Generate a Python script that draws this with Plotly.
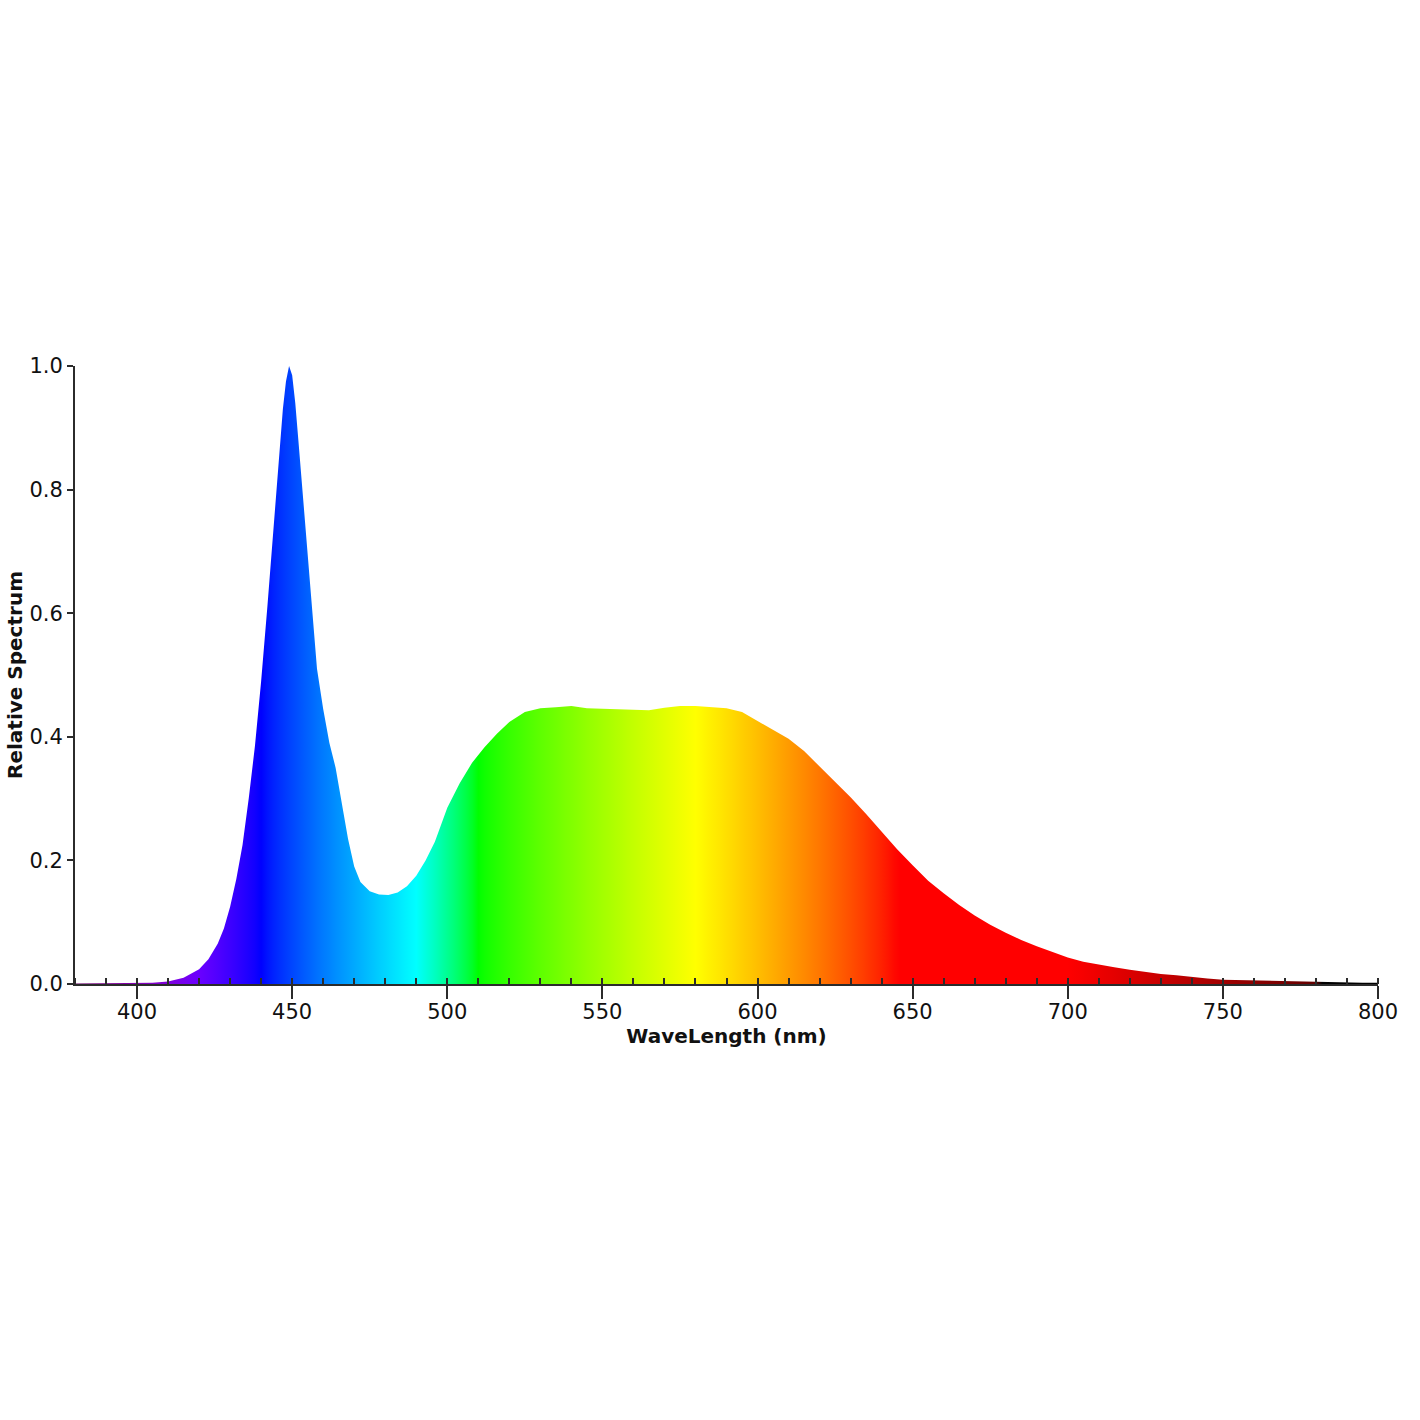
import plotly.graph_objects as go

# Wavelength (nm) and relative spectrum values
wavelength = [380, 385, 390, 395, 400, 405, 410, 415, 420, 423, 426, 428, 430, 432, 434,
              436, 438, 440, 442, 444, 446, 447, 448, 449, 450, 451, 452, 454, 456, 458,
              460, 462, 464, 466, 468, 470, 472, 475, 478, 481, 484, 487, 490, 493, 496,
              500, 504, 508, 512, 516, 520, 525, 530, 535, 540, 545, 550, 555, 560, 565,
              570, 575, 580, 585, 590, 595, 600, 605, 610, 615, 620, 625, 630, 635, 640,
              645, 650, 655, 660, 665, 670, 675, 680, 685, 690, 695, 700, 705, 710, 715,
              720, 725, 730, 735, 740, 745, 750, 755, 760, 765, 770, 775, 780, 785, 790,
              795, 800]
relative = [0.001, 0.001, 0.001, 0.001, 0.001, 0.002, 0.004, 0.010, 0.024, 0.040, 0.065,
            0.090, 0.125, 0.170, 0.225, 0.300, 0.385, 0.490, 0.610, 0.740, 0.870, 0.930,
            0.975, 1.000, 0.985, 0.940, 0.880, 0.760, 0.630, 0.510, 0.445, 0.390, 0.350,
            0.290, 0.235, 0.190, 0.165, 0.150, 0.145, 0.144, 0.148, 0.158, 0.175, 0.200,
            0.230, 0.285, 0.325, 0.358, 0.383, 0.405, 0.424, 0.440, 0.446, 0.448, 0.450,
            0.446, 0.445, 0.445, 0.444, 0.443, 0.447, 0.450, 0.450, 0.448, 0.446, 0.440,
            0.426, 0.412, 0.397, 0.377, 0.352, 0.327, 0.302, 0.275, 0.247, 0.218, 0.192,
            0.167, 0.147, 0.128, 0.111, 0.096, 0.083, 0.071, 0.061, 0.052, 0.043, 0.036,
            0.031, 0.027, 0.023, 0.019, 0.016, 0.014, 0.011, 0.009, 0.007, 0.0065, 0.0055,
            0.0048, 0.004, 0.0033, 0.003, 0.0027, 0.0025, 0.002, 0.002]

x_ticks = [400, 450, 500, 550, 600, 650, 700, 750, 800]
y_ticks = [0.0, 0.2, 0.4, 0.6, 0.8, 1.0]
X_RANGE = [380, 800]
Y_RANGE = [0, 1]


def spectrum_rgb(w, gamma=0.8):
    """Approximate visible color of a wavelength (style only)."""
    if 380 <= w < 440:
        r, g, b = -(w - 440) / 60.0, 0.0, 1.0
    elif 440 <= w < 490:
        r, g, b = 0.0, (w - 440) / 50.0, 1.0
    elif 490 <= w < 510:
        r, g, b = 0.0, 1.0, -(w - 510) / 20.0
    elif 510 <= w < 580:
        r, g, b = (w - 510) / 70.0, 1.0, 0.0
    elif 580 <= w < 645:
        r, g, b = 1.0, -(w - 645) / 65.0, 0.0
    elif 645 <= w <= 780:
        r, g, b = 1.0, 0.0, 0.0
    else:
        r, g, b = 0.0, 0.0, 0.0
    if 380 <= w < 420:
        f = 0.3 + 0.7 * (w - 380) / 40.0
    elif 420 <= w < 700:
        f = 1.0
    elif 700 <= w <= 780:
        f = 0.3 + 0.7 * (780 - w) / 80.0
    else:
        f = 0.0
    c = [0 if v == 0 else round(255 * (v * f) ** gamma) for v in (r, g, b)]
    return "rgb(%d,%d,%d)" % tuple(c)


span = X_RANGE[1] - X_RANGE[0]
colorscale = [[(w - X_RANGE[0]) / span, spectrum_rgb(w)] for w in range(X_RANGE[0], X_RANGE[1] + 1, 2)]
colorscale[-1][0] = 1.0

fig = go.Figure()
fig.add_trace(go.Scatter(
    x=wavelength, y=relative, mode="lines", fill="tozeroy",
    line=dict(width=0, color="rgba(0,0,0,0)"),
    fillgradient=dict(type="horizontal", colorscale=colorscale,
                      start=X_RANGE[0], stop=X_RANGE[1]),
    hoverinfo="skip", showlegend=False,
))

AX = "#2b2b2b"
tick_font = dict(family="DejaVu Sans", size=21, color="#111")
title_font = dict(family="DejaVu Sans", size=20, color="#111", weight="bold")

fig.update_layout(
    width=1420, height=1420,
    margin=dict(l=75, r=42, t=366, b=436, autoexpand=False),
    paper_bgcolor="white", plot_bgcolor="white",
    xaxis=dict(
        range=X_RANGE, tickvals=x_ticks, ticktext=[str(v) for v in x_ticks],
        ticks="outside", ticklen=13, tickwidth=2, tickcolor=AX,
        showline=True, linecolor=AX, linewidth=2, showgrid=False, zeroline=False,
        tickfont=tick_font, automargin=False, ticklabelstandoff=-5,
        minor=dict(ticks="inside", dtick=10, tick0=380, ticklen=6, tickwidth=2,
                   tickcolor=AX, showgrid=False),
        title=dict(text="WaveLength (nm)", font=title_font, standoff=5),
    ),
    xaxis2=dict(
        range=X_RANGE, overlaying="x", anchor="y", side="bottom",
        tickvals=x_ticks, showticklabels=False, ticks="inside", ticklen=13,
        tickwidth=2, tickcolor=AX, showline=False, showgrid=False, zeroline=False,
        automargin=False,
    ),
    yaxis=dict(
        range=Y_RANGE, tickvals=y_ticks, ticktext=["%.1f" % v for v in y_ticks],
        ticks="outside", ticklen=6, tickwidth=2, tickcolor=AX,
        showline=True, linecolor=AX, linewidth=2, showgrid=False, zeroline=False,
        tickfont=tick_font, automargin=False,
        title=dict(text="Relative Spectrum", font=title_font, standoff=1),
    ),
    yaxis2=dict(
        range=Y_RANGE, overlaying="y", anchor="x", side="left",
        tickvals=y_ticks, showticklabels=False, ticks="inside", ticklen=6,
        tickwidth=2, tickcolor=AX, showline=False, showgrid=False, zeroline=False,
        automargin=False,
    ),
)

fig.write_html("out.html")
